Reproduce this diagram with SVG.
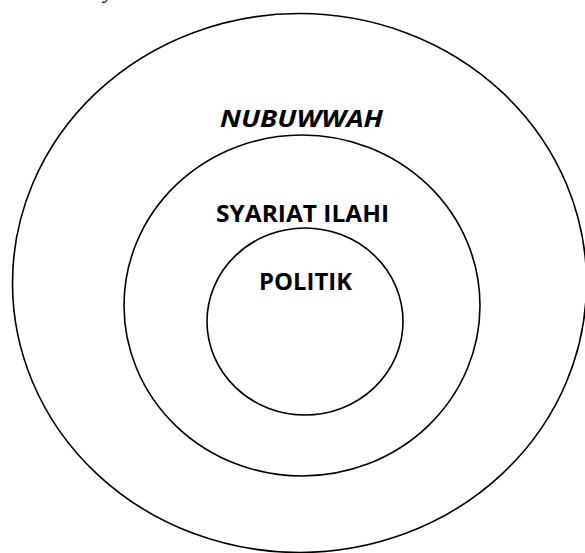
<svg xmlns="http://www.w3.org/2000/svg" width="585" height="553" viewBox="0 0 585 553">
<style>
.ring{fill:none;stroke:#000;stroke-width:1.6}
.lbl{font-family:"Open Sans","Liberation Sans",sans-serif;font-weight:bold;font-size:23px;fill:#000;text-anchor:middle}
</style>
<rect width="585" height="553" fill="#fff"/>
<text x="104" y="-2" font-family="Liberation Serif,serif" font-style="italic" font-size="22">y</text>
<g id="nubuwwah">
<ellipse class="ring" cx="299.5" cy="283" rx="287" ry="269.5"/>
<text class="lbl" x="301.5" y="127" font-style="italic" textLength="163" lengthAdjust="spacingAndGlyphs">NUBUWWAH</text>
</g>
<g id="syariat">
<ellipse class="ring" cx="302" cy="305.5" rx="178" ry="170.5"/>
<text class="lbl" x="302.5" y="222" textLength="173" lengthAdjust="spacingAndGlyphs">SYARIAT ILAHI</text>
</g>
<g id="politik">
<ellipse class="ring" cx="305" cy="321.5" rx="98" ry="93.5"/>
<text class="lbl" x="305.5" y="290" textLength="93" lengthAdjust="spacingAndGlyphs">POLITIK</text>
</g>
<g id="connectors"/>
</svg>
